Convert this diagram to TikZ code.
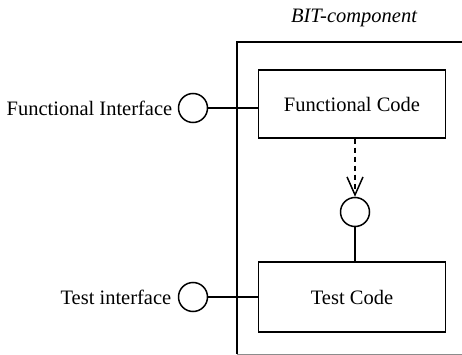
\documentclass[tikz,border=0pt]{standalone}
\usepackage{fontspec}
\setmainfont{Liberation Serif}
\usetikzlibrary{arrows.meta}
\begin{document}
\begin{tikzpicture}[x=1pt,y=-1pt,
  line width=1.5pt,
  lbl/.style={font=\fontsize{20.5}{24}\selectfont, inner sep=0pt},
  codebox/.style={draw, minimum width=187pt, minimum height=68pt, inner sep=0pt, font=\fontsize{20.5}{24}\selectfont},
  iface/.style={draw, circle, minimum size=29pt, inner sep=0pt}]
\useasboundingbox (0,0) rectangle (462,355);
\begin{scope}
\clip (0,0) rectangle (462,355);
\draw (237,354) -- (237,42) -- (480,42);
\draw[line width=0.6pt, black!45] (237,354) -- (480,354);
\end{scope}
\node[lbl, font=\fontsize{20.5}{24}\selectfont\itshape] (title) at (354,18) {BIT-component};
\node[codebox] (fc) at (352,104) {Functional Code};
\node[codebox, minimum height=70pt] (tc) at (352,297) {Test Code};
\node[iface] (fi) at (193,108) {};
\node[iface] (ti) at (193,297) {};
\node[iface] (mi) at (355,212) {};
\node[lbl, anchor=east] (fil) at (173,108) {Functional Interface};
\node[lbl, anchor=east] (til) at (172,297) {Test interface};
\draw (fi.east) -- (fi.east -| fc.west);
\draw (ti.east) -- (ti.east -| tc.west);
\draw (mi.south) -- (mi.south |- tc.north);
\draw[dashed, dash pattern=on 5pt off 4pt, -{Straight Barb[length=18pt,width=16pt,line width=1.5pt]}] (fc.south -| mi.north) -- (mi.north);
\end{tikzpicture}
\end{document}
